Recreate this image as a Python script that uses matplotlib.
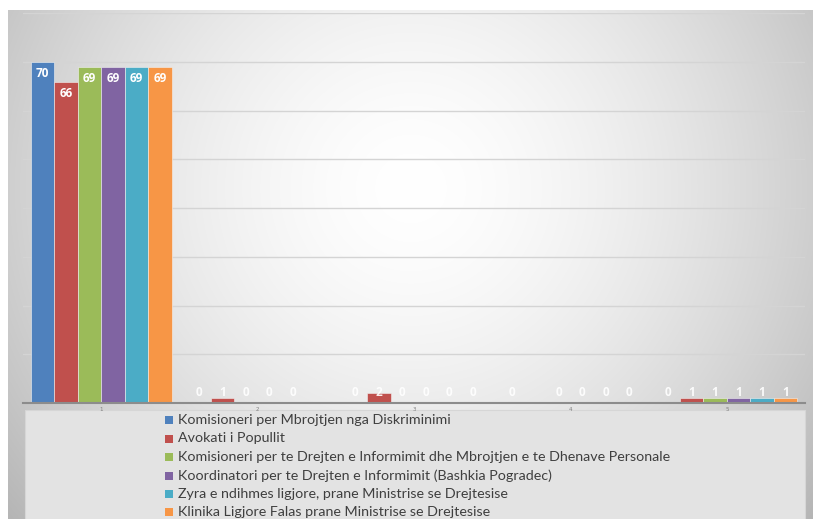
import numpy as np
import matplotlib
matplotlib.use("Agg")
import matplotlib.pyplot as plt
from matplotlib.patches import Rectangle

categories = ["1", "2", "3", "4", "5"]
series_names = [
    "Komisioneri per Mbrojtjen nga Diskriminimi",
    "Avokati i Popullit",
    "Komisioneri per te Drejten e Informimit dhe Mbrojtjen e te Dhenave Personale",
    "Koordinatori per te Drejten e Informimit (Bashkia Pogradec)",
    "Zyra e ndihmes ligjore, prane Ministrise se Drejtesise",
    "Klinika Ligjore Falas prane Ministrise se Drejtesise",
]
s_komisioneri_diskr = [70, 0, 0, 0, 0]
s_avokati = [66, 1, 2, np.nan, 1]
s_komisioneri_info = [69, 0, 0, 0, 1]
s_koordinatori = [69, 0, 0, 0, 1]
s_zyra = [69, 0, 0, 0, 1]
s_klinika = [69, np.nan, 0, 0, 1]
series_values = [s_komisioneri_diskr, s_avokati, s_komisioneri_info,
                 s_koordinatori, s_zyra, s_klinika]
colors = ["#4F81BD", "#C0504D", "#9BBB59", "#8064A2", "#4BACC6", "#F79646"]

W, H = 813, 519
fig = plt.figure(figsize=(W / 100, H / 100), dpi=100)
fig.patch.set_facecolor("white")

# gradient background
bg = fig.add_axes([8 / W, 0, (W - 8) / W, (H - 10) / H], zorder=0)
ny, nx = 300, 500
yy, xx = np.mgrid[0:1:ny * 1j, 0:1:nx * 1j]
r = np.sqrt(((xx - 0.5) / 0.55) ** 2 + ((yy - 0.35) / 0.85) ** 2)
v = np.clip(1 - 0.22 * r ** 1.6, 0, 1)
bg.imshow(np.dstack([v, v, v]), aspect="auto",
          extent=[0, 1, 1, 0], interpolation="bilinear", vmin=0, vmax=1)
bg.set_axis_off()

# legend box
leg = fig.add_axes([0, 0, 1, 1], zorder=1)
leg.set_xlim(0, W)
leg.set_ylim(H, 0)
leg.set_axis_off()
leg.patch.set_alpha(0)
leg.add_patch(Rectangle((25, 410), 780, 120, facecolor="#e3e3e3",
                        edgecolor="#d6d6d6", linewidth=0.8))
row_y = [420, 438.5, 457, 475.5, 494, 512]
for name, c, yv in zip(series_names, colors, row_y):
    leg.add_patch(Rectangle((165, yv - 4), 8, 8, facecolor=c, edgecolor="none"))
    leg.text(178, yv, name, fontsize=10.3, family=["Lato", "DejaVu Sans"],
             color="#3f3f3f", va="center", ha="left")

# main axes
ax = fig.add_axes([23 / W, (H - 403) / H, 782 / W, (403 - 13.4) / H], zorder=2)
ax.patch.set_alpha(0)
x = np.arange(1, len(categories) + 1)
bw = 0.15
n = len(series_values)
lab_font = ["Open Sans", "DejaVu Sans"]
for i, (vals, c) in enumerate(zip(series_values, colors)):
    xs = x + (i - (n - 1) / 2) * bw
    vals = np.array(vals, dtype=float)
    ax.bar(xs, np.nan_to_num(vals), width=bw, color=c, edgecolor="#f2f2f2",
           linewidth=0.4, zorder=3)
    for xi, vi in zip(xs, vals):
        if np.isnan(vi):
            continue
        if vi > 5:
            ax.annotate(f"{int(vi)}", (xi, vi), xytext=(0, -5), textcoords="offset pixels",
                        ha="center", va="top", color="white", fontsize=8.5,
                        fontweight="bold", family=lab_font, zorder=4)
        else:
            ax.annotate(f"{int(vi)}", (xi, 0), xytext=(0, 11), textcoords="offset pixels",
                        ha="center", va="center", color="white", fontsize=8.5,
                        fontweight="bold", family=lab_font, zorder=4,
                        alpha=0.9)

ax.set_xlim(0.5, 5.5)
ax.set_ylim(0, 80)
ax.set_yticks(np.arange(0, 81, 10))
ax.yaxis.grid(True, color="#d4d4d4", linewidth=1, zorder=1)
ax.set_axisbelow(True)
ax.set_yticklabels([])
ax.tick_params(axis="y", length=0)
ax.set_xticks(x)
ax.set_xticklabels(categories, fontsize=4, color="#808080")
ax.tick_params(axis="x", length=0, pad=3)
for s in ["top", "right", "left"]:
    ax.spines[s].set_visible(False)
ax.spines["bottom"].set_color("#8c8c8c")
ax.spines["bottom"].set_linewidth(1.5)
ax.spines["bottom"].set_zorder(5)

fig.savefig("out.png", dpi=100)
